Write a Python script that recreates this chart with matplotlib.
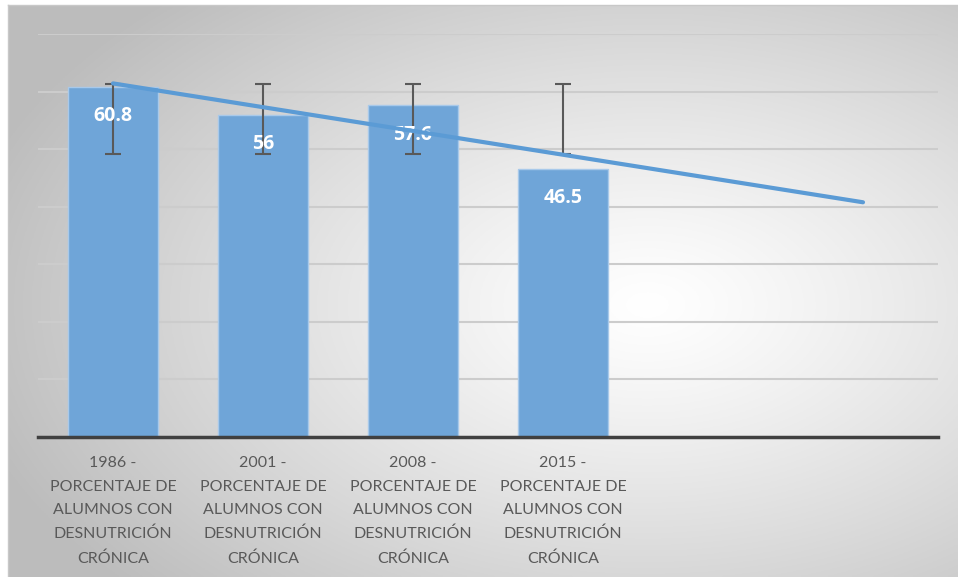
import matplotlib.pyplot as plt
import numpy as np

# datos
years = ["1986", "2001", "2008", "2015"]
values = [60.8, 56, 57.6, 46.5]
label_text = "PORCENTAJE DE\nALUMNOS CON\nDESNUTRICIÓN\nCRÓNICA"
n_slots = 6  # la linea de tendencia se proyecta 2 periodos mas
y_max = 70
y_step = 10

plt.rcParams['font.family'] = ['Lato', 'DejaVu Sans']

W, H = 958, 577
fig = plt.figure(figsize=(W / 100, H / 100), dpi=100)
fig.patch.set_facecolor('white')

# fondo con degradado radial
bg = fig.add_axes([8 / W, 0, (W - 8) / W, (H - 5) / H], zorder=0)
gx, gy = np.meshgrid(np.linspace(0, W - 8, 400), np.linspace(0, H - 5, 250))
r = np.sqrt(((gx - 640) / 700) ** 2 + ((gy - 300) / 420) ** 2)
shade = 1 - 0.26 * np.clip(r, 0, 1) ** 1.2
bg.imshow(np.dstack([shade] * 3), aspect='auto', extent=[0, 1, 0, 1], origin='upper')
bg.set_xticks([])
bg.set_yticks([])
for s in bg.spines.values():
    s.set_color('#c8c8c8')
    s.set_linewidth(1)
bg.spines['right'].set_visible(False)
bg.spines['bottom'].set_visible(False)

ax = fig.add_axes([38 / W, (H - 437) / H, 900 / W, 403 / H], zorder=1)
ax.patch.set_alpha(0)

x = np.arange(len(values))
bars = ax.bar(x, values, width=0.6, color='#6fa5d8', edgecolor='#a8c9ea',
              linewidth=1, zorder=3)

# barras de error: desviacion estandar centrada en la media
mean = np.mean(values)
sd = np.std(values, ddof=1)
ax.errorbar(x, [mean] * len(x), yerr=sd, fmt='none', ecolor='#595959',
            elinewidth=1.5, capsize=6, capthick=1.5, zorder=4)

for xi, v in zip(x, values):
    ax.annotate(f"{v:g}", (xi, v), xytext=(0, -21), textcoords='offset points',
                ha='center', va='center', color='white', fontsize=14,
                family=['Open Sans', 'DejaVu Sans'], fontweight='bold', zorder=5)

# tendencia lineal
slope, inter = np.polyfit(x, values, 1)
tx = np.array([0, n_slots - 1])
ax.plot(tx, slope * tx + inter, color='#5b9bd5', lw=3, solid_capstyle='round', zorder=6)

ax.set_xlim(-0.5, n_slots - 0.5)
ax.set_ylim(0, y_max)
ax.set_yticks(np.arange(y_step, y_max + 1, y_step))
ax.yaxis.grid(True, color='#cccccc', lw=1.5, zorder=0)
ax.set_yticklabels([])
ax.tick_params(axis='y', length=0)

ax.set_xticks(np.arange(n_slots))
ax.set_xticklabels([f"{yr} -\n{label_text}" for yr in years] + [""] * (n_slots - len(years)),
                   fontsize=11.5, color='#595959', linespacing=1.85)
ax.tick_params(axis='x', length=0, pad=14)

for side in ['top', 'right', 'left']:
    ax.spines[side].set_visible(False)
ax.spines['bottom'].set_color('#404040')
ax.spines['bottom'].set_linewidth(2.5)
ax.spines['bottom'].set_zorder(7)

fig.savefig('out.png', dpi=100)
